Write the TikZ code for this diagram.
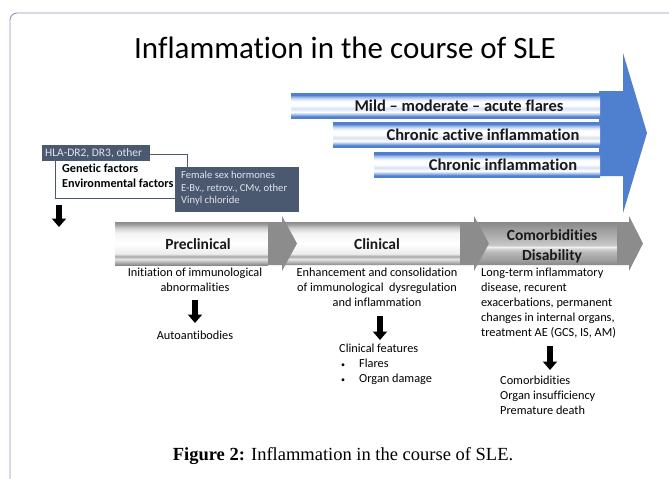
\documentclass[tikz,border=0pt]{standalone}
\usepackage{fontspec}
\setmainfont{Carlito}[RawFeature={-liga;-clig}]
\newfontfamily\capfont{Liberation Serif}
\usetikzlibrary{arrows.meta}

\definecolor{bblue}{RGB}{79,127,207}
\definecolor{blight}{RGB}{160,187,232}
\definecolor{bpale}{RGB}{214,226,246}
\definecolor{slate}{RGB}{74,88,112}
\definecolor{slatetext}{RGB}{225,228,235}
\definecolor{framec}{RGB}{150,146,190}
\definecolor{headgray}{RGB}{140,140,140}
\definecolor{gA}{RGB}{138,138,138}
\definecolor{gB}{RGB}{176,176,176}
\definecolor{gC}{RGB}{230,230,230}
\definecolor{gD}{RGB}{168,168,168}
\definecolor{gE}{RGB}{236,236,236}
\definecolor{gF}{RGB}{244,244,244}
\definecolor{gG}{RGB}{208,208,208}
\definecolor{gH}{RGB}{160,160,160}
\definecolor{hA}{RGB}{136,136,136}
\definecolor{hB}{RGB}{156,156,156}
\definecolor{hC}{RGB}{184,184,184}
\definecolor{hD}{RGB}{214,214,214}
\definecolor{hE}{RGB}{242,242,242}
\definecolor{hF}{RGB}{200,200,200}
\definecolor{hG}{RGB}{176,176,176}
\definecolor{hH}{RGB}{154,154,154}

\pgfdeclareverticalshading{barshade}{100bp}{color(0bp)=(bblue); color(25bp)=(bblue); color(28bp)=(bblue); color(32bp)=(blight); color(37bp)=(white); color(44bp)=(bpale); color(50bp)=(white); color(58bp)=(white); color(63bp)=(bpale); color(67bp)=(blight); color(71bp)=(bblue); color(75bp)=(bblue); color(100bp)=(bblue)}
\pgfdeclareverticalshading{segshade}{100bp}{color(0bp)=(gA); color(25bp)=(gA); color(28bp)=(gB); color(32bp)=(gC); color(35bp)=(gD); color(38bp)=(gE); color(50bp)=(white); color(62bp)=(gF); color(68bp)=(gG); color(72bp)=(gH); color(75bp)=(gA); color(100bp)=(gA)}
\pgfdeclareverticalshading{segdark}{100bp}{color(0bp)=(hA); color(25bp)=(hA); color(30bp)=(hB); color(40bp)=(hC); color(44bp)=(hD); color(46bp)=(hE); color(48bp)=(hF); color(58bp)=(hG); color(68bp)=(hH); color(75bp)=(hA); color(100bp)=(hA)}

\newcommand{\smbullet}{{\fontsize{8}{8}\selectfont\textbullet}}

\tikzset{
  bartext/.style={font=\bfseries\fontsize{16.5}{18}\selectfont, text=black!90, inner sep=0pt},
  seglabel/.style={font=\bfseries\fontsize{15.5}{20}\selectfont, text=black!90, inner sep=0pt, align=center},
  bodytext/.style={font=\fontsize{12.3}{15}\selectfont, inner sep=0pt},
  boxtext/.style={font=\fontsize{10.6}{12.5}\selectfont, text=slatetext, inner sep=0pt, align=left},
  blockarrow/.style={line width=5.5pt, -{Triangle[width=14pt,length=8.5pt]}},
}

\begin{document}
\begin{tikzpicture}[x=1pt,y=-1pt]
\useasboundingbox (0,0) rectangle (669,479);
\fill[white] (0,0) rectangle (669,479);

% frame
\draw[framec, line width=0.9pt, rounded corners=7pt] (10,495) -- (10,13) -- (690,13);

% title
\node[font=\fontsize{31}{34}\selectfont, inner sep=0pt] (title) at (345,48) {Inflammation in the course of SLE};

% big blue arrow
\fill[bblue] (599,91) -- (623,91) -- (623,53) -- (647,133) -- (623,213) -- (623,176) -- (599,176) -- cycle;

% striped bars
\shade[shading=barshade] (291,93) rectangle (600,118);
\shade[shading=barshade] (333,122) rectangle (600,147);
\shade[shading=barshade] (374,152) rectangle (600,177);
\node[bartext] (bar1) at (459,106) {Mild – moderate – acute flares};
\node[bartext] (bar2) at (483,135) {Chronic active inflammation};
\node[bartext] (bar3) at (503,165) {Chronic inflammation};

% process segments
\shade[shading=segshade] (115,222) rectangle (268,265);
\shade[shading=segshade] (283,222) -- (460,222) -- (460,265) -- (283,265) -- (296,243.5) -- cycle;
\shade[shading=segdark] (476,222) -- (617,222) -- (617,265) -- (476,265) -- (489,243.5) -- cycle;
\fill[headgray] (268,222) -- (282,222) -- (282,216) -- (297,243.5) -- (282,271) -- (282,265) -- (268,265) -- cycle;
\fill[headgray] (460,222) -- (474,222) -- (474,216) -- (489,243.5) -- (474,271) -- (474,265) -- (460,265) -- cycle;
\fill[headgray] (617,222) -- (629,222) -- (629,216) -- (643,243.5) -- (629,271) -- (629,265) -- (617,265) -- cycle;
\node[seglabel] (pre) at (198,244) {Preclinical};
\node[seglabel] (cli) at (377,244) {Clinical};
\node[seglabel] (com) at (552,246) {Comorbidities\\Disability};

% left factor boxes
\draw[slate, line width=0.7pt] (55,154) rectangle (187,198);
\fill[slate] (42,145) rectangle (150,161);
\node[boxtext, font=\fontsize{11.5}{12.5}\selectfont, anchor=west] (hla) at (45,153.5) {HLA-DR2, DR3, other};
\node[font=\bfseries\fontsize{12.2}{15}\selectfont, inner sep=0pt, align=left, anchor=north west] (gen) at (62,163.5) {Genetic factors\\Environmental factors};
\fill[slate] (175,167) rectangle (299,212);
\node[boxtext, anchor=north west] (env) at (181,171) {Female sex hormones\\E-Bv., retrov., CMv, other\\Vinyl chloride};
\coordinate (a0s) at (59,205);
\coordinate (a0e) at (59,227);
\draw[blockarrow] (a0s) -- (a0e);

% preclinical column
\node[bodytext, anchor=north, align=center] (init) at (195,267.5) {Initiation of immunological\\abnormalities};
\node[bodytext] (auto) at (195,335) {Autoantibodies};
\coordinate (a1s) at (195,300);
\coordinate (a1e) at (195,323);
\draw[blockarrow] (a1s) -- (a1e);

% clinical column
\node[bodytext, anchor=north, align=center] (enh) at (377,267.5) {Enhancement and consolidation\\of immunological\ \ dysregulation\\and inflammation};
\node[bodytext, anchor=north west, align=left] (feat) at (339,343.5) {Clinical features\\\hspace{2pt}\smbullet\hspace{14pt}Flares\\\hspace{2pt}\smbullet\hspace{14pt}Organ damage};
\coordinate (a2s) at (380,316);
\coordinate (a2e) at (380,340);
\draw[blockarrow] (a2s) -- (a2e);

% comorbidity column
\node[bodytext, anchor=north west, align=left] (long) at (481,267.5) {Long-term inflammatory\\disease, recurent\\exacerbations, permanent\\changes in internal organs,\\treatment AE (GCS, IS, AM)};
\node[bodytext, anchor=north west, align=left] (out) at (500,375.5) {Comorbidities\\Organ insufficiency\\Premature death};
\coordinate (a3s) at (550,346);
\coordinate (a3e) at (550,370);
\draw[blockarrow] (a3s) -- (a3e);

% caption
\node[font=\capfont\fontsize{18.5}{20}\selectfont, inner sep=0pt] (cap) at (343,456) {\textbf{Figure 2:} Inflammation in the course of SLE.};
\end{tikzpicture}
\end{document}
